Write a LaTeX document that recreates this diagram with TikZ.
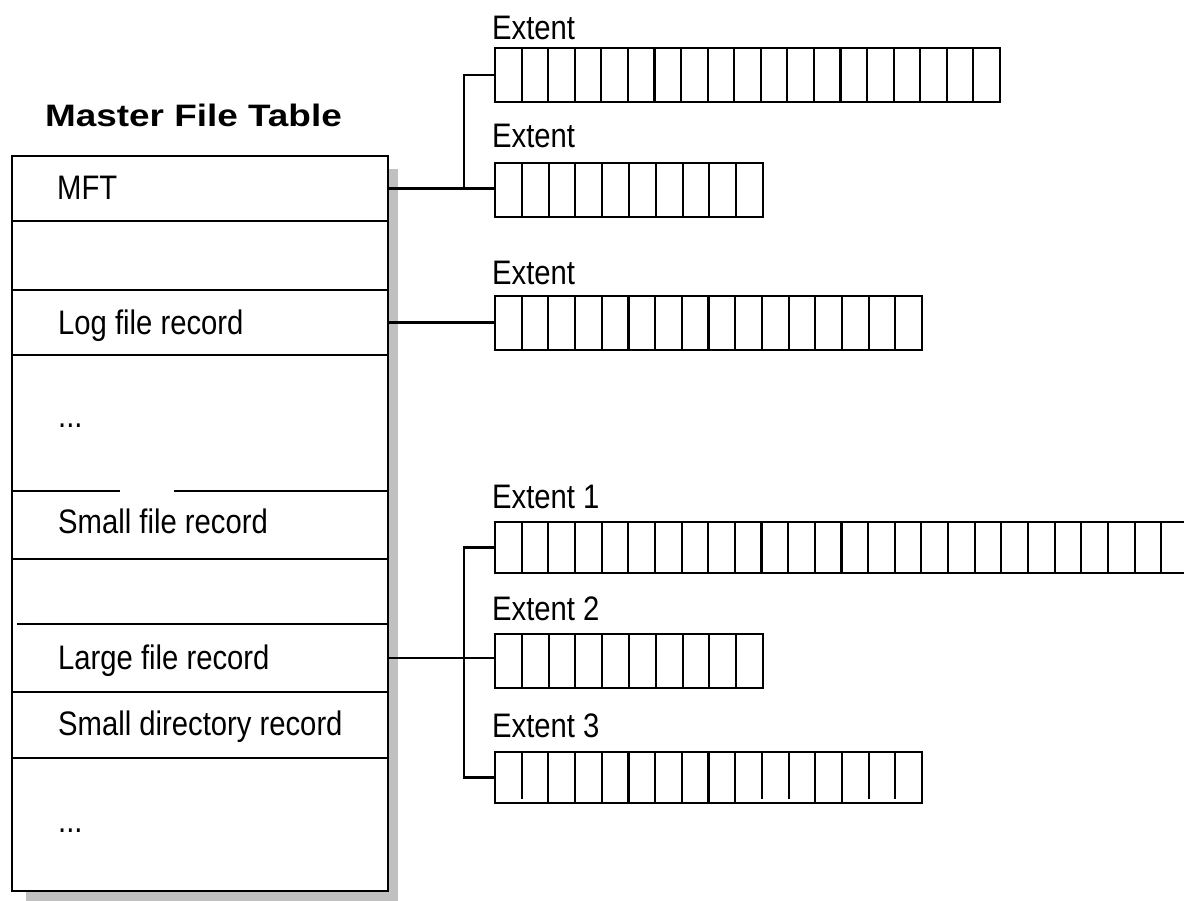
\documentclass[tikz,border=0pt]{standalone}
\usepackage{fontspec}
\setmainfont{Liberation Sans}
\definecolor{shd}{RGB}{192,192,192}
\newcommand\sx[1]{\scalebox{0.86}[1]{#1}}
\newcommand\cellsin[3]{\foreach \k in {1,...,#2} \draw[ln] ([xshift=\k*#3 pt]#1.north west) -- ([xshift=\k*#3 pt]#1.south west);}
\tikzset{
  ln/.style={line width=2.1pt},
  row/.style={rectangle, draw=none, minimum width=376pt, inner sep=0pt, outer sep=0pt, anchor=north west},
  ext/.style={rectangle, draw, line width=2.1pt, inner sep=0pt, outer sep=0pt, anchor=north west},
  lbl/.style={anchor=base west, inner sep=0pt, font=\fontsize{34}{39}\selectfont},
  ttl/.style={anchor=base west, inner sep=0pt, font=\fontsize{31}{36}\selectfont\bfseries},
}
\begin{document}
\begin{tikzpicture}[x=1pt,y=-1pt]
\useasboundingbox[fill=white] (0,0) rectangle (1184,901);
% title
\node[ttl] (title) at (45,127) {\scalebox{1.19}[1]{Master File Table}};
% shadow
\fill[shd] (388,169) rectangle (398,901);
\fill[shd] (26,891) rectangle (398,901);
% rows
\node[row, minimum height=65pt]  (r1) at (12,156) {};
\node[row, minimum height=69pt]  (r2) at (12,221) {};
\node[row, minimum height=65pt]  (r3) at (12,290) {};
\node[row, minimum height=136pt] (r4) at (12,355) {};
\node[row, minimum height=68pt]  (r5) at (12,491) {};
\node[row, minimum height=65pt]  (r6) at (12,559) {};
\node[row, minimum height=68pt]  (r7) at (12,624) {};
\node[row, minimum height=66pt]  (r8) at (12,692) {};
\node[row, minimum height=133pt] (r9) at (12,758) {};
\fill[white] (r1.north west) rectangle (r9.south east);
\draw[ln] (r1.north west) rectangle (r9.south east);
\draw[ln] (r1.south west) -- (r1.south east);
\draw[ln] (r2.south west) -- (r2.south east);
\draw[ln] (r3.south west) -- (r3.south east);
\draw[ln] (r4.south west) -- ++(108,0);
\draw[ln] (r4.south east) -- ++(-214,0);
\draw[ln] (r5.south west) -- (r5.south east);
\draw[ln] ([xshift=5pt]r6.south west) -- (r6.south east);
\draw[ln] (r7.south west) -- (r7.south east);
\draw[ln] (r8.south west) -- (r8.south east);
% row texts
\node[lbl] (t1) at (57,200) {\sx{MFT}};
\node[lbl] (t3) at (58,335) {\sx{Log file record}};
\node[lbl] (t4) at (58,427) {\sx{...}};
\node[lbl] (t5) at (58,533) {\sx{Small file record}};
\node[lbl] (t7) at (58,669) {\sx{Large file record}};
\node[lbl] (t8) at (58,735) {\sx{Small directory record}};
\node[lbl] (t9) at (58,832) {\sx{...}};
% extents
\node[ext, minimum width=505pt, minimum height=54pt] (ea) at (495,48) {};
\cellsin{ea}{18}{26.58}
\node[ext, minimum width=268pt, minimum height=54pt] (eb) at (495,163) {};
\cellsin{eb}{9}{26.8}
\node[ext, minimum width=427pt, minimum height=54pt] (el) at (495,296) {};
\cellsin{el}{15}{26.69}
\node[ext, minimum width=693pt, minimum height=51pt] (e1) at (495,522) {};
\cellsin{e1}{25}{26.65}
\node[ext, minimum width=268pt, minimum height=54pt] (e2) at (495,634) {};
\cellsin{e2}{9}{26.8}
\node[ext, minimum width=427pt, minimum height=51pt] (e3) at (495,752) {};
\foreach \k in {2,...,9,12,13} \draw[ln] ([xshift=\k*26.69pt]e3.north west) -- ([xshift=\k*26.69pt]e3.south west);
\foreach \k in {1,10,11,14,15} \draw[ln] ([xshift=\k*26.69pt]e3.north west) -- ([xshift=\k*26.69pt,yshift=4pt]e3.south west);
% extent labels
\node[lbl] (la) at (492,40)  {\sx{Extent}};
\node[lbl] (lb) at (492,148) {\sx{Extent}};
\node[lbl] (lc) at (492,285) {\sx{Extent}};
\node[lbl] (l1) at (492,508) {\sx{Extent 1}};
\node[lbl] (l2) at (492,620) {\sx{Extent 2}};
\node[lbl] (l3) at (492,737) {\sx{Extent 3}};
% connectors
\coordinate (jx) at (464,0);
\draw[ln] (r1.east) -- (r1.east -| eb.west);
\draw[ln] (r1.east -| jx) |- (ea.west);
\draw[ln] (r3.east) -- (r3.east -| el.west);
\draw[ln] (r7.east) -- (r7.east -| e2.west);
\draw[ln] (e1.west) -| (jx |- e2.west) |- (e3.west);
\end{tikzpicture}
\end{document}
